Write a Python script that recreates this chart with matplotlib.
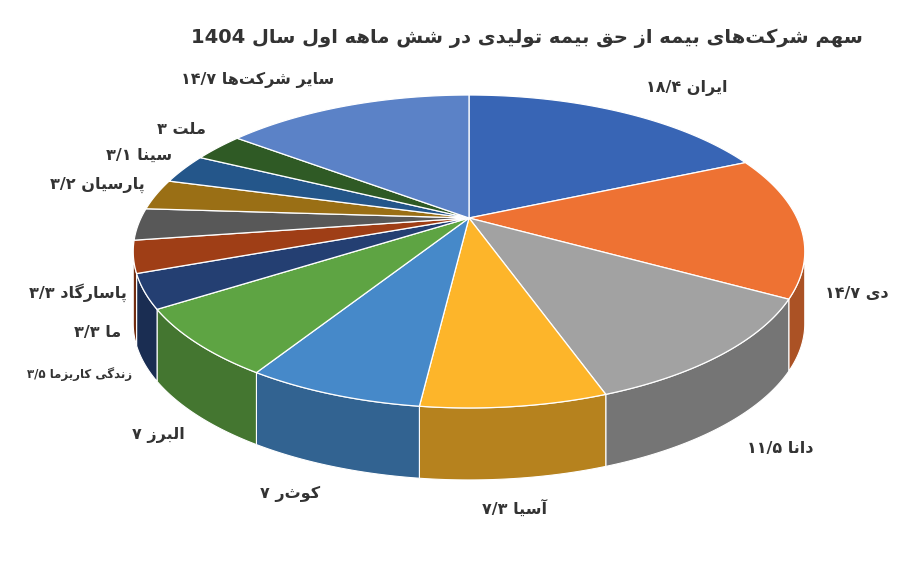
import numpy as np
import matplotlib.pyplot as plt
import matplotlib.colors as mcolors

# --- minimal Persian shaping (matplotlib has no bidi / joining support) ---
FORMS = {  # isolated, final, initial, medial
    'ا': (0xFE8D, 0xFE8E), 'آ': (0xFE81, 0xFE82), 'د': (0xFEA9, 0xFEAA),
    'ر': (0xFEAD, 0xFEAE), 'ز': (0xFEAF, 0xFEB0), 'و': (0xFEED, 0xFEEE),
    'ب': (0xFE8F, 0xFE90, 0xFE91, 0xFE92), 'پ': (0xFB56, 0xFB57, 0xFB58, 0xFB59),
    'ت': (0xFE95, 0xFE96, 0xFE97, 0xFE98), 'ح': (0xFEA1, 0xFEA2, 0xFEA3, 0xFEA4),
    'س': (0xFEB1, 0xFEB2, 0xFEB3, 0xFEB4), 'ش': (0xFEB5, 0xFEB6, 0xFEB7, 0xFEB8),
    'ق': (0xFED5, 0xFED6, 0xFED7, 0xFED8), 'ک': (0xFB8E, 0xFB8F, 0xFB90, 0xFB91),
    'گ': (0xFB92, 0xFB93, 0xFB94, 0xFB95), 'ل': (0xFEDD, 0xFEDE, 0xFEDF, 0xFEE0),
    'م': (0xFEE1, 0xFEE2, 0xFEE3, 0xFEE4), 'ن': (0xFEE5, 0xFEE6, 0xFEE7, 0xFEE8),
    'ه': (0xFEE9, 0xFEEA, 0xFEEB, 0xFEEC), 'ی': (0xFBFC, 0xFBFD, 0xFBFE, 0xFBFF),
}


def shape_word(w):
    out = []
    for i, ch in enumerate(w):
        if ch not in FORMS:
            if ch != '\u200c':
                out.append(ch)
            continue
        prev = w[i - 1] if i > 0 else ''
        nxt = w[i + 1] if i + 1 < len(w) else ''
        jp = prev in FORMS and len(FORMS[prev]) == 4
        jn = len(FORMS[ch]) == 4 and nxt in FORMS
        f = FORMS[ch]
        if jp and jn:
            c = f[3]
        elif jp:
            c = f[1]
        elif jn:
            c = f[2]
        else:
            c = f[0]
        out.append(chr(c))
    return ''.join(out[::-1])


def rtl(text):
    toks = []
    for t in text.split(' '):
        if any(c in FORMS for c in t):
            toks.append(shape_word(t))
        else:
            toks.append(t)
    return ' '.join(toks[::-1])


title = 'سهم شرکت\u200cهای بیمه از حق بیمه تولیدی در شش ماهه اول سال 1404'
names = ['ایران', 'دی', 'دانا', 'آسیا', 'کوثر', 'البرز', 'زندگی کاریزما',
         'ما', 'پاسارگاد', 'پارسیان', 'سینا', 'ملت', 'سایر شرکت\u200cها']
values = [18.4, 14.7, 11.5, 7.3, 7, 7, 3.5, 3.3, 3.3, 3.2, 3.1, 3, 14.7]
colors = ['#3865b5', '#ee7233', '#a2a2a2', '#fdb52a', '#4689c9', '#5ea443',
          '#243f72', '#9f3e16', '#585858', '#9a6f15', '#24568a', '#2f5a25', '#5b82c7']

PD = str.maketrans('0123456789.', '۰۱۲۳۴۵۶۷۸۹/')


def fa_num(v):
    return ('%g' % v).translate(PD)


# perspective view of a tilted disc
cx, cy = 469, 218
R, S, p = 328, 149.3, 0.214
depth = 72


def pt(a, k=1.0):
    u, v = k * np.sin(a), k * np.cos(a)
    w = 1 + p * v
    return cx + R * u / w, cy - S * v / w


fig = plt.figure(figsize=(9, 5.62), dpi=100)
ax = fig.add_axes([0, 0, 1, 1])
ax.set_xlim(0, 900)
ax.set_ylim(562, 0)
ax.axis('off')

bounds = np.concatenate([[0], np.cumsum(values)]) / sum(values) * 2 * np.pi
lo, hi = np.pi / 2 + np.arctan(p), 3 * np.pi / 2 - np.arctan(p)
lo, hi = np.arccos(-p) - 0.0, 2 * np.pi - np.arccos(-p)  # silhouette points

# side walls (front part only)
for i, c in enumerate(colors):
    a1, a2 = max(bounds[i], lo), min(bounds[i + 1], hi)
    if a2 <= a1:
        continue
    t = np.linspace(a1, a2, 60)
    xs, ys = pt(t)
    dark = np.array(mcolors.to_rgb(c)) * 0.72
    ax.fill(np.r_[xs, xs[::-1]], np.r_[ys, ys[::-1] + depth], color=dark,
            ec='white', lw=0.8, zorder=1)

# top faces
for i, c in enumerate(colors):
    t = np.linspace(bounds[i], bounds[i + 1], 80)
    xs, ys = pt(t)
    ax.fill(np.r_[cx, xs], np.r_[cy, ys], color=c, ec='white', lw=0.9, zorder=2)

# labels
for i, (n, v) in enumerate(zip(names, values)):
    a = (bounds[i] + bounds[i + 1]) / 2
    x, y = pt(a, 1.0)
    s, c = np.sin(a), np.cos(a)
    if abs(s) > 0.2:
        x += (25 if s > 0 else -12) * np.sign(s) * (1 if s > 0 else -1)
    if c > 0:
        y -= 22 * c + 6
    else:
        y += depth - 5 + 35 * (-c)
    ha = 'left' if s > 0.2 else ('right' if s < -0.2 else 'center')
    ax.text(x, y, rtl(n + ' ' + fa_num(v)), ha=ha, va='center',
            fontsize=8.5 if i == 6 else 11.5, fontweight='bold',
            color='#333333', family=['DejaVu Sans'], zorder=3)

ax.text(527, 38, rtl(title), ha='center', va='center', fontsize=14,
        fontweight='bold', color='#333333', family=['DejaVu Sans'])

fig.savefig('out.png', dpi=100)
